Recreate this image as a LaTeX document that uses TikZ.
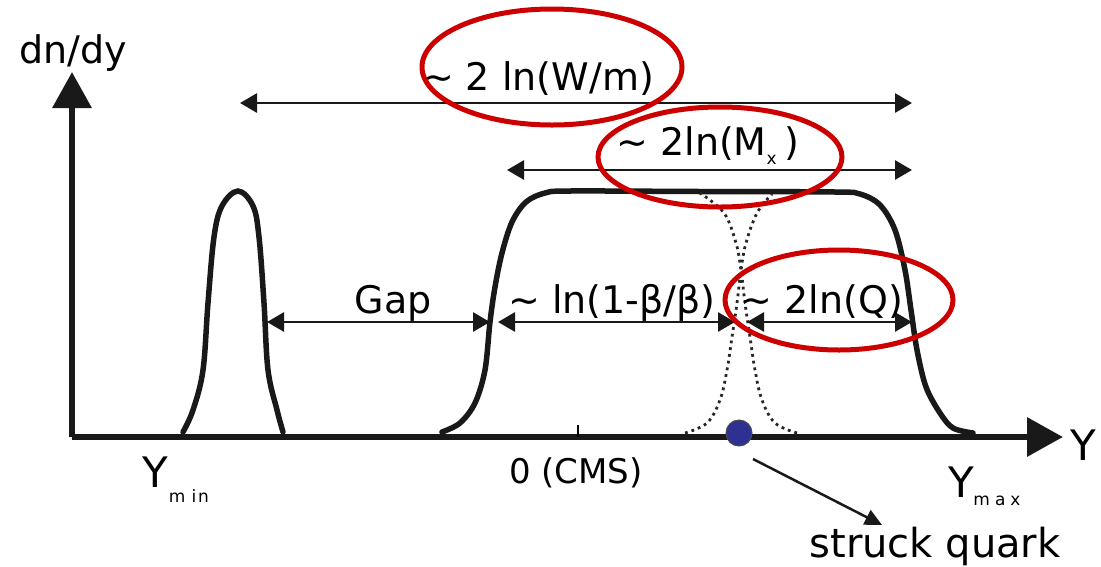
\documentclass[tikz,border=0pt]{standalone}
\usepackage{fontspec}
\setmainfont{DejaVu Sans}
\usetikzlibrary{arrows.meta,positioning}

\definecolor{ringred}{RGB}{204,0,0}
\definecolor{quarkblue}{RGB}{46,49,146}

\begin{document}
\begin{tikzpicture}[x=1pt, y=-1pt,
  axis/.style={line width=6.5pt, draw=black!90, -{Triangle[length=36pt,width=38pt]}},
  curve/.style={line width=5.5pt, draw=black!90, line cap=round},
  tail/.style={line width=2.8pt, draw=black!85, dash pattern=on 2.8pt off 4pt},
  dim/.style={line width=2.8pt, draw=black!90, {Triangle[length=17pt,width=19pt]}-{Triangle[length=17pt,width=19pt]}},
  pointer/.style={line width=2.5pt, draw=black!90, -{Triangle[length=17pt,width=16pt]}},
  ring/.style={line width=5pt, draw=ringred},
  lbl/.style={inner sep=0pt, anchor=base, font=\fontsize{38}{40}\selectfont},
  axlbl/.style={inner sep=0pt, anchor=base, font=\fontsize{42}{44}\selectfont},
  sub/.style={inner sep=0pt, anchor=base, font=\fontsize{17}{18}\selectfont},
]
\useasboundingbox (0,0) rectangle (1101,566);

% axes
\coordinate (origin) at (72,437);
\coordinate (ytip) at (72,72);
\coordinate (xtip) at (1063,437);
\draw[axis] (origin) -- (ytip);
\draw[axis] (origin) -- (xtip);
\node[lbl] (dndy) at (73,63) {dn/dy};
\node[axlbl] (yaxis) at (1083,460) {Y};
\draw[line width=2pt] (578,425) -- (578,437);
\node[lbl, font=\fontsize{34}{36}\selectfont] (cms) at (576,483) {0 (CMS)};
\node[axlbl] (ymin) at (155,487) {Y};
\node[sub] (ymins) at (189,502) {m\hspace{6pt}i\hspace{2pt}n};
\node[axlbl] (ymax) at (961,497) {Y};
\node[sub] (ymaxs) at (997,505) {m\hspace{5pt}a\hspace{5pt}x};

% target peak
\draw[curve] plot[smooth, tension=0.6] coordinates {(183,432) (193,410) (203,370) (208,303)
  (214,237) (222,206) (238,191) (253,206) (259,237) (264,303) (268,370) (277,410) (283,432)};

% current + target fragmentation plateau
\draw[curve] plot[smooth, tension=0.55] coordinates {(442,432) (460,423) (475,403) (485,370)
  (490,322) (495,287) (502,253) (512,222) (526,202) (545,193) (570,191) (700,191.5)
  (835,192) (860,194) (880,205) (895,230) (905,270) (911,310)
  (917,350) (926,387) (940,413) (953,428) (973,433)};

% overlapping tails
\draw[tail] plot[smooth, tension=0.6] coordinates {(685,433) (707,423) (720,400) (727,370)
  (732,337) (737,303) (741,270) (746,243) (757,213) (772,194)};
\draw[tail] plot[smooth, tension=0.6] coordinates {(797,433) (775,423) (762,400) (755,370)
  (750,337) (745,303) (741,270) (736,243) (724,213) (700,193)};

% struck quark
\node[circle, fill=quarkblue, draw=black!70, line width=1pt, minimum size=26pt, inner sep=0pt] (qdot) at (739,433) {};
\node[lbl, font=\fontsize{40}{42}\selectfont] (quark) at (935,557) {struck quark};
\coordinate (qtail) at (753,459);
\coordinate (qhead) at (882,525);
\draw[pointer] (qtail) -- (qhead);

% rapidity intervals
\coordinate (wL) at (240,103);  \coordinate (wR) at (912,103);
\coordinate (mL) at (507,170);  \coordinate (mR) at (912,170);
\coordinate (gapL) at (267,322); \coordinate (gapR) at (490,322);
\coordinate (bL) at (498,322);  \coordinate (bR) at (735,322);
\coordinate (qL) at (747,322);  \coordinate (qR) at (912,322);
\foreach \a/\b in {wL/wR, mL/mR, gapL/gapR, bL/bR, qL/qR} {
  \draw[dim] (\a) -- (\b);
}

\node[lbl] (wlbl) at (538,90) {\textasciitilde{} 2 ln(W/m)};
\node[lbl] (mlbl) at (708,155) {\textasciitilde{} 2ln(M\raisebox{-9pt}{\fontsize{17}{18}\selectfont x}\hspace{8pt})};
\node[lbl] (gaplbl) at (393,313) {Gap};
\node[lbl] (blbl) at (612,313) {\textasciitilde{} ln(1-β/β)};
\node[lbl] (qlbl) at (822,313) {\textasciitilde{} 2ln(Q)};

% highlighted scales
\draw[ring] (552,67) ellipse [x radius=130, y radius=58];
\draw[ring] (720,157) ellipse [x radius=122, y radius=50];
\draw[ring] (839,300) ellipse [x radius=114, y radius=50];

\end{tikzpicture}
\end{document}
